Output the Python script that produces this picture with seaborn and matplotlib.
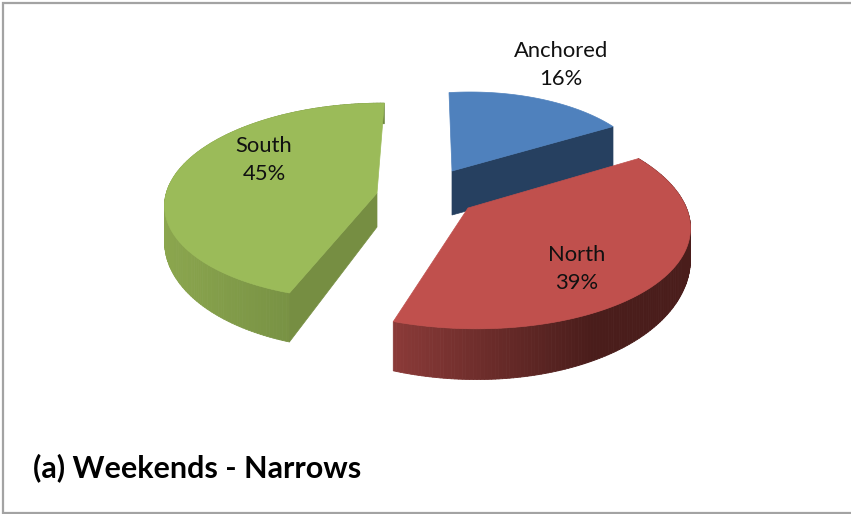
import numpy as np
import matplotlib
matplotlib.use('Agg')
import matplotlib.pyplot as plt
from matplotlib.collections import PolyCollection
from matplotlib.colors import to_rgb
import seaborn as sns

# ---- data ----
categories = ["Anchored", "North", "South"]
shares = [16, 39, 45]
title_text = "(a) Weekends - Narrows"

# ---- styles: top colour, inner-face colour, side gradient (left, right) ----
top_colors = ["#4f81bd", "#c0504d", "#9bbb59"]
inner_colors = ["#264060", None, "#768e42"]
side_left = ["#264060", "#8a3a38", "#8ba64e"]
side_right = ["#264060", "#4a1d1b", "#6b843d"]

# ---- 3-D view of each exploded slice (pixel layout) ----
apex = [(452, 171), (468, 208), (377, 193)]
rim_centre = [(470, 180), (462.1, 221.4), (372.5, 201.3)]
rim_a = [180, 228.5, 208.0]
rim_b = [88, 107.1, 98.0]
rim_rot = [0, -177.8, 178.4]
# view warp of pie angle -> rim parameter at slice start and end
warp = [(-96.7, -95.0), (81.9, 88.5), (-263.7, -266.0)]
depth0 = [44, 50, 49]
depth_ref_y = [127, 325, 293]
depth_slope = [0.0, 0.2, 0.15]
label_xy = [(561, 65), (577, 269), (264, 160)]

sns.set_theme(style="white")
plt.rcParams['font.family'] = ['Lato', 'DejaVu Sans']

fig, ax = plt.subplots(figsize=(8.51, 5.14), dpi=100)
ax.set_position([0, 0, 1, 1])
ax.set_xlim(0, 851)
ax.set_ylim(514, 0)
ax.axis('off')

edges = np.cumsum([0] + shares) * 3.6


def rim(i, t):
    t0, t1 = edges[i], edges[i + 1]
    off = np.interp(t, [t0, t1], warp[i])
    phi = np.radians(t + off)
    r = np.radians(rim_rot[i])
    u = np.array([np.cos(r), np.sin(r)])
    v = np.array([-u[1], u[0]])
    return (np.array(rim_centre[i])
            + np.outer(rim_a[i] * np.cos(phi), u)
            + np.outer(rim_b[i] * np.sin(phi), v))


def depth(i, y):
    return depth0[i] + depth_slope[i] * (y - depth_ref_y[i])


def shift(i, pts):
    pts = np.asarray(pts, float)
    return pts + np.c_[np.zeros(len(pts)), depth(i, pts[:, 1])]


for i in range(len(shares)):
    z = 5 + i * 5
    t = np.linspace(edges[i], edges[i + 1], 160)
    top = rim(i, t)
    low = shift(i, top)
    # outer wall, as thin vertical strips shaded left to right
    if i > 0:
        quads = [np.array([top[j], top[j + 1], low[j + 1], low[j]]) for j in range(len(t) - 1)]
        xs = top[:-1, 0]
        f = (xs - xs.min()) / (xs.max() - xs.min())
        f = np.clip(f * (1.5 if i == 1 else 1.0), 0, 1)
        cols = (1 - f)[:, None] * np.array(to_rgb(side_left[i])) + f[:, None] * np.array(to_rgb(side_right[i]))
        ax.add_collection(PolyCollection(quads, facecolors=cols, edgecolors=cols, linewidths=0.6, zorder=z))
    # inner cut face
    if inner_colors[i]:
        a = np.array([apex[i]], float)
        e = top[-1:] if i == 0 else top[:1]
        quad = np.vstack([a, e, shift(i, e), shift(i, a)])
        ax.fill(*quad.T, color=inner_colors[i], lw=0.5, zorder=z + 1)
    # top face
    poly = np.vstack([apex[i], top])
    ax.fill(*poly.T, color=top_colors[i], lw=0.5, zorder=z + 2)
    ax.text(*label_xy[i], f"{categories[i]}\n{shares[i]}%", ha='center', va='center',
            fontsize=15.8, color='#111111', linespacing=1.45, zorder=40)

ax.text(33, 468, title_text, fontsize=22, fontweight='bold', color='black',
        ha='left', va='center', zorder=40)

frame = "#a3a3a3"
ax.plot([851, 3, 3, 851], [3, 3, 513, 513], color=frame, lw=1.6, zorder=50, solid_joinstyle='miter')

fig.savefig('out.png', dpi=100)
